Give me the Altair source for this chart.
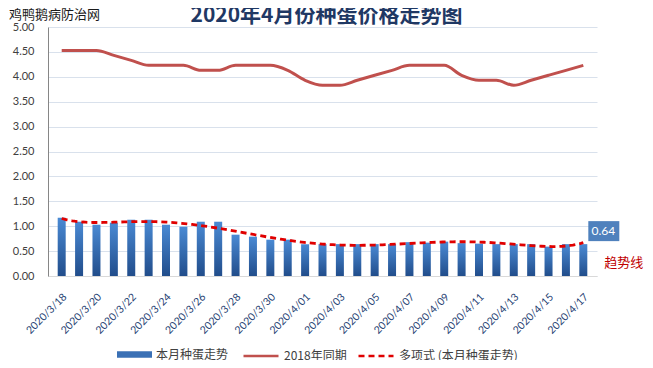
import altair as alt
import pandas as pd

DATES = [
    "2020/3/18", "2020/3/19", "2020/3/20", "2020/3/21", "2020/3/22", "2020/3/23",
    "2020/3/24", "2020/3/25", "2020/3/26", "2020/3/27", "2020/3/28", "2020/3/29",
    "2020/3/30", "2020/3/31", "2020/4/01", "2020/4/02", "2020/4/03", "2020/4/04",
    "2020/4/05", "2020/4/06", "2020/4/07", "2020/4/08", "2020/4/09", "2020/4/10",
    "2020/4/11", "2020/4/12", "2020/4/13", "2020/4/14", "2020/4/15", "2020/4/16",
    "2020/4/17",
]
PRICE_2020 = [
    1.17, 1.09, 1.03, 1.07, 1.13, 1.13, 1.03, 0.99, 1.09, 1.09, 0.83, 0.79,
    0.73, 0.73, 0.64, 0.64, 0.64, 0.64, 0.64, 0.64, 0.68, 0.67, 0.69, 0.66,
    0.65, 0.64, 0.64, 0.64, 0.59, 0.64, 0.64,
]
PRICE_2018 = [
    4.53, 4.53, 4.53, 4.43, 4.33, 4.23, 4.23, 4.23, 4.13, 4.13, 4.23, 4.23,
    4.23, 4.13, 3.93, 3.83, 3.83, 3.93, 4.03, 4.13, 4.23, 4.23, 4.23, 4.03,
    3.93, 3.93, 3.83, 3.93, 4.03, 4.13, 4.23,
]
SERIES = ["本月种蛋走势", "2018年同期", "多项式 (本月种蛋走势)"]
SERIES_COLORS = ["#3A70B5", "#C0504D", "#E00000"]
TITLE = "2020年4月份种蛋价格走势图"
SOURCE_NOTE = "鸡鸭鹅病防治网"
TREND_LABEL = "趋势线"
Y_TICKS = [0, 0.5, 1, 1.5, 2, 2.5, 3, 3.5, 4, 4.5, 5]

CJK = "Noto Sans CJK SC"
NUM = "Lato, Noto Sans CJK SC"
W, H = 549, 249

n = len(DATES)
df = pd.DataFrame({
    "idx": list(range(n)),
    "date": DATES,
    "price": PRICE_2020,
    "y2018": PRICE_2018,
})
last = df.tail(1)
text_df = pd.DataFrame({"note": [SOURCE_NOTE], "title": [TITLE]})

label_expr = "[" + ",".join("'" + d + "'" for d in DATES) + "][datum.value]"

x_enc = alt.X(
    "idx:Q",
    scale=alt.Scale(domain=[-0.5, n - 0.5], nice=False, zero=False),
    axis=alt.Axis(
        values=list(range(0, n, 2)), labelExpr=label_expr, labelAngle=-45,
        labelAlign="right", labelBaseline="middle", labelOverlap=False,
        title=None, grid=False, ticks=False, domainColor="#D9D9D9",
        labelColor="#1F3F73", labelFontSize=10.5, labelFont=NUM,
        labelPadding=19, labelOffset=3,
    ),
)
y_scale = alt.Scale(domain=[0, 5], nice=False)
y_axis = alt.Axis(
    values=Y_TICKS, format=".2f", title=None, ticks=False,
    domainColor="#868686", gridColor="#D9E1EC", labelColor="#404040",
    labelFontSize=11, labelFont=NUM, labelPadding=14,
)
y_price = alt.Y("price:Q", scale=y_scale, axis=y_axis)

LEG_Y = 310


def make_legend(x, **kw):
    return alt.Legend(
        title=None, orient="none", direction="horizontal", legendX=x, legendY=LEG_Y,
        labelFont=CJK, labelFontSize=12, labelColor="#404040", labelOffset=4,
        symbolSize=1225, **kw,
    )


bar_gradient = alt.LinearGradient(
    gradient="linear", x1=0, y1=0, x2=0, y2=1,
    stops=[alt.GradientStop(offset=0, color="#4A8AD4"),
           alt.GradientStop(offset=1, color="#214D8B")],
)

base = alt.Chart(df)

bars = base.mark_bar(size=8, fill=bar_gradient).encode(x=x_enc, y=y_price)

# empty layer that only feeds the legend entry of the bars
bar_legend = base.transform_filter("false").transform_calculate(
    series=f"'{SERIES[0]}'"
).mark_bar(size=8).encode(
    x=x_enc, y=y_price,
    fill=alt.Fill(
        "series:N",
        scale=alt.Scale(domain=[SERIES[0]], range=[SERIES_COLORS[0]]),
        legend=make_legend(69, symbolType="M-1,-0.18H1V0.18H-1Z", symbolStrokeWidth=0),
    ),
)

line2018 = base.transform_calculate(series=f"'{SERIES[1]}'").mark_line(
    strokeWidth=3, interpolate="monotone"
).encode(
    x=x_enc,
    y=alt.Y("y2018:Q", scale=y_scale, axis=y_axis),
    stroke=alt.Stroke(
        "series:N",
        scale=alt.Scale(domain=[SERIES[1]], range=[SERIES_COLORS[1]]),
        legend=make_legend(194, symbolType="stroke", symbolStrokeWidth=2.5),
    ),
)

trend = base.transform_regression(
    "idx", "price", method="poly", order=6
).transform_calculate(series=f"'{SERIES[2]}'").mark_line(
    strokeWidth=2.8, color=SERIES_COLORS[2]
).encode(
    x=x_enc,
    y=y_price,
    strokeDash=alt.StrokeDash(
        "series:N",
        scale=alt.Scale(domain=[SERIES[2]], range=[[6, 4]]),
        legend=make_legend(309, symbolType="stroke", symbolStrokeWidth=2.5,
                           symbolStrokeColor=SERIES_COLORS[2]),
    ),
)

box = alt.Chart(last).mark_rect(
    color="#4F81BD", xOffset=5, x2Offset=36, yOffset=-23, y2Offset=-3
).encode(x=x_enc, x2="idx:Q", y=y_price, y2="price:Q")

box_text = alt.Chart(last).mark_text(
    dx=20, dy=-13, align="center", baseline="middle", color="white",
    fontSize=12, font=NUM,
).encode(x=x_enc, y=y_price, text=alt.Text("price:Q", format=".2f"))

trend_text = alt.Chart(last).mark_text(
    dx=21, dy=19, align="left", baseline="middle", color="#C00000",
    fontSize=13, font=CJK,
).encode(x=x_enc, y=y_price, text=alt.value(TREND_LABEL))

note = alt.Chart(text_df).mark_text(
    align="left", baseline="middle", fontSize=13, font=CJK, color="#1A1A1A",
).encode(text="note:N", x=alt.value(-39), y=alt.value(-12))

title = alt.Chart(text_df).mark_text(
    align="center", baseline="middle", fontSize=21, font=CJK, fontWeight="bold",
    color="#1F3864",
).encode(text="title:N", x=alt.value(W / 2 + 4), y=alt.value(-11))

chart = alt.layer(
    bars, bar_legend, line2018, trend, box, box_text, trend_text, note, title
).properties(
    width=W,
    height=H,
    autosize="none",
    padding={"left": 40, "top": 19, "right": 48, "bottom": 84},
).resolve_scale(fill="independent", stroke="independent", strokeDash="independent"
).configure_view(stroke=None)

chart.save("out.html", embed_options={"renderer": "svg", "actions": False})
